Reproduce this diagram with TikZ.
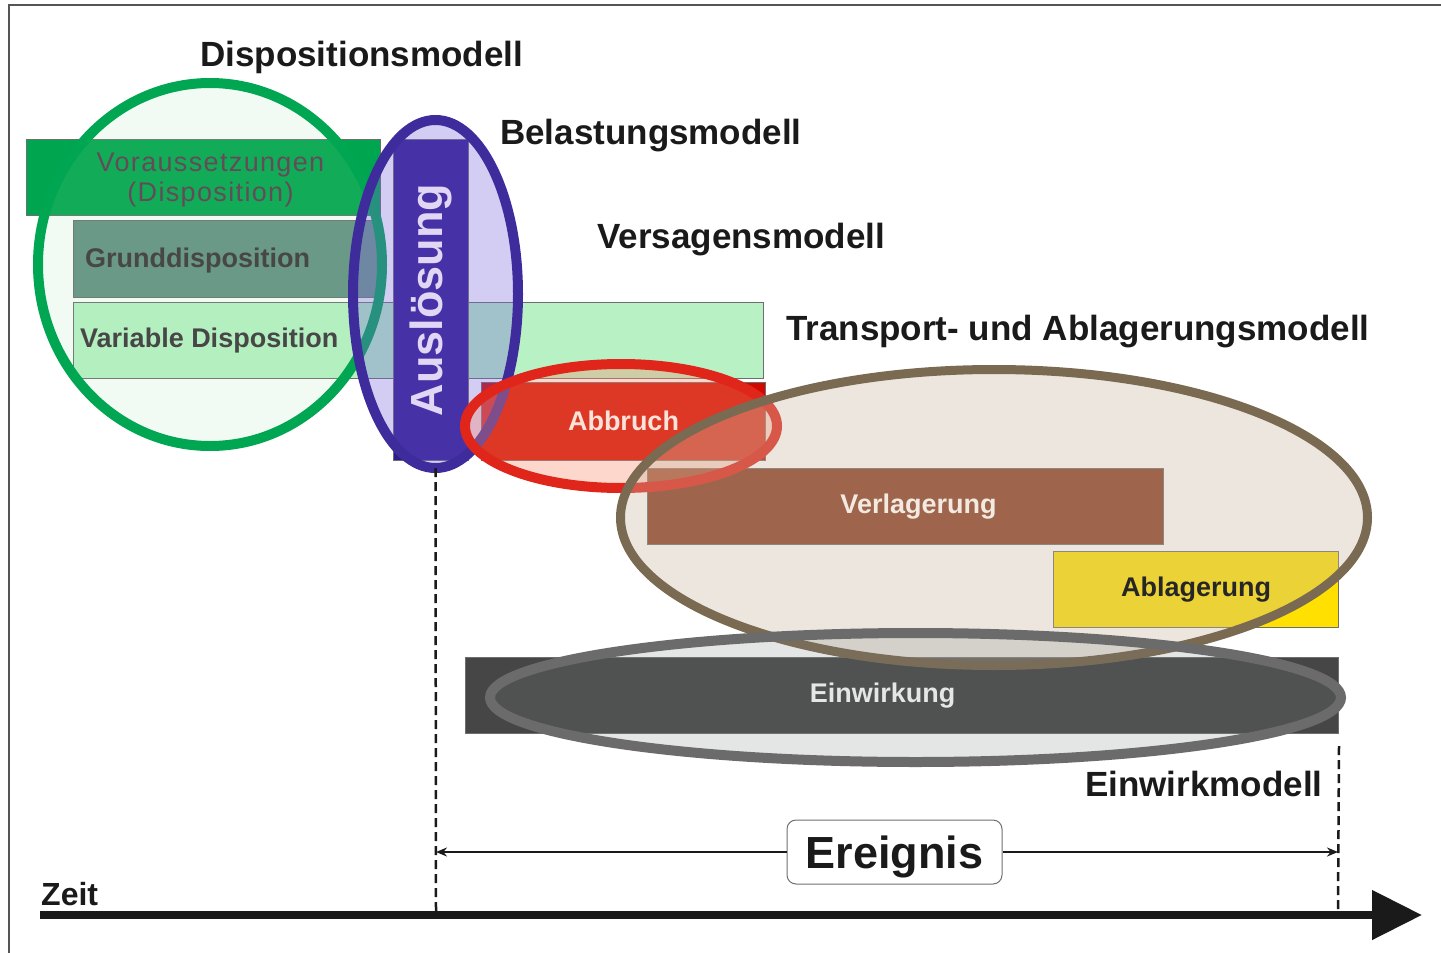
\documentclass[tikz,border=0pt]{standalone}
\usepackage{fontspec}
\setmainfont{Liberation Sans}
\newfontfamily\widefont{Liberation Sans}[LetterSpace=5]
\usepackage{tikz}
\usetikzlibrary{shapes.geometric, arrows.meta, positioning, calc}
\definecolor{ink}{HTML}{1A1A1A}
\definecolor{boxline}{HTML}{6E6E6E}
\definecolor{headgreen}{HTML}{00A550}
\definecolor{grundteal}{HTML}{649085}
\definecolor{varigreen}{HTML}{B8F1C4}
\definecolor{ausviolet}{HTML}{2E1A8C}
\definecolor{abbred}{HTML}{D00A00}
\definecolor{verbrown}{HTML}{8A3A1F}
\definecolor{ablyellow}{HTML}{FFE000}
\definecolor{einwgray}{HTML}{464646}
\definecolor{dispgreen}{HTML}{00A651}
\definecolor{dispfill}{HTML}{96E1A0}
\definecolor{ausline}{HTML}{3E2C9C}
\definecolor{ausfill}{HTML}{7864DC}
\definecolor{abbline}{HTML}{E0261A}
\definecolor{abbfill}{HTML}{F88C6E}
\definecolor{transline}{HTML}{7A6A52}
\definecolor{transfill}{HTML}{C8B8A0}
\definecolor{einwline}{HTML}{6B6B6B}
\definecolor{einwfill}{HTML}{787D7D}
\definecolor{vortext}{HTML}{644B58}
\definecolor{grundtext}{HTML}{474747}
\definecolor{austext}{HTML}{E1D7F5}
\definecolor{abbtext}{HTML}{FBE3DA}
\definecolor{vertext}{HTML}{F2EAE0}
\definecolor{abltext}{HTML}{262626}
\definecolor{einwtext}{HTML}{E6E6E6}
\definecolor{evline}{HTML}{707070}
\definecolor{frameline}{HTML}{555555}

\begin{document}
\begin{tikzpicture}[x=1pt, y=-1pt,
    box/.style={rectangle, draw=boxline, line width=1pt, inner sep=0pt, anchor=north west},
    ring/.style={ellipse, inner sep=0pt, outer sep=0pt, line width=10pt},
    heading/.style={anchor=base west, inner sep=0pt, text=ink,
                    font=\fontsize{35}{42}\selectfont\bfseries},
    boxlabel/.style={inner sep=0pt, font=\fontsize{27}{31}\selectfont\bfseries},
    dashline/.style={ink, line width=2.5pt, dash pattern=on 9pt off 5pt},
    evarrow/.style={-{Stealth[length=11pt, width=9pt]}, line width=2pt, ink},
    timeaxis/.style={-{Triangle[length=50pt, width=48pt]}, line width=8pt, ink}
]
\useasboundingbox (0,0) rectangle (1441,953);
\draw[frameline, line width=2pt] (9,953) -- (9,5) -- (1441,5);

\node[box, fill=headgreen, minimum width=354pt, minimum height=76pt] (voraus) at (26,139) {};
\node[box, fill=grundteal, minimum width=307pt, minimum height=77pt] (grund) at (73,220) {};
\node[box, fill=varigreen, minimum width=690pt, minimum height=76pt] (vardisp) at (73,302) {};
\node[box, fill=ausviolet, minimum width=75pt, minimum height=321pt] (ausbar) at (393,139) {};
\node[box, fill=abbred, minimum width=284pt, minimum height=78pt] (abbruch) at (481,382) {};
\node[box, fill=verbrown, minimum width=516pt, minimum height=76pt] (verlag) at (647,468) {};
\node[box, fill=ablyellow, minimum width=285pt, minimum height=76pt] (ablag) at (1053,551) {};
\node[box, fill=einwgray, minimum width=873pt, minimum height=76pt] (einw) at (465,657) {};

\node[ring, draw=dispgreen, fill=dispfill, fill opacity=0.12,
      minimum width=344pt, minimum height=363pt] (dispring) at (210,264.5) {};
\node[ring, draw=ausline, fill=ausfill, fill opacity=0.33,
      minimum width=165pt, minimum height=348pt] (ausring) at (435.5,294) {};
\node[ring, draw=abbline, fill=abbfill, fill opacity=0.35,
      minimum width=312pt, minimum height=124pt] (abbring) at (621,426) {};
\node[ring, line width=9pt, draw=transline, fill=transfill, fill opacity=0.35,
      minimum width=747pt, minimum height=296pt] (transring) at (994,517.5) {};
\node[ring, draw=einwline, fill=einwfill, fill opacity=0.2,
      minimum width=851pt, minimum height=129pt] (einwring) at (915.5,697.5) {};

\node[inner sep=0pt, align=center, text=vortext,
      font=\widefont\fontsize{27}{30}\selectfont] (vorText) at ([xshift=7pt, yshift=-3pt]voraus.center)
      {Voraussetzungen\\(Disposition)};
\node[boxlabel, anchor=west, text=grundtext] (grundText) at ([xshift=12pt, yshift=-2pt]grund.west) {Grunddisposition};
\node[boxlabel, anchor=west, text=grundtext] (variText) at ([xshift=7pt]vardisp.west) {Variable Disposition};
\node[inner sep=0pt, rotate=90, text=austext,
      font=\fontsize{45}{50}\selectfont\bfseries] (ausText) at (ausbar.center) {Auslösung};
\node[boxlabel, text=abbtext] (abbText) at ([yshift=1pt]abbruch.center) {Abbruch};
\node[boxlabel, text=vertext] (verText) at ([xshift=13pt]verlag.center) {Verlagerung};
\node[boxlabel, text=abltext] (ablText) at (ablag.center) {Ablagerung};
\node[boxlabel, text=einwtext] (einwText) at ([xshift=-19.5pt]einw.center) {Einwirkung};

\node[heading] (dispHead) at (200,66) {Dispositionsmodell};
\node[heading] (belHead) at (500,144) {Belastungsmodell};
\node[heading] (verHead) at (597,248) {Versagensmodell};
\node[heading] (transHead) at (786,340) {Transport- und Ablagerungsmodell};
\node[heading] (einwHead) at (1085,796) {Einwirkmodell};
\node[heading, font=\fontsize{32}{38}\selectfont\bfseries] (zeit) at (41,905) {Zeit};

\coordinate (tOnset) at (436,911);
\coordinate (tEnd) at (1338,911);
\coordinate (evstart) at (436,852);
\coordinate (evend) at (1338,852);
\coordinate (tstart) at (40,915);
\coordinate (tstop) at (1422,915);

\draw[dashline] (ausring.south) -- (tOnset);
\draw[dashline] ([yshift=-12pt]einw.south east) -- (tEnd);

\node[rounded corners=9pt, draw=evline, fill=white, line width=1pt,
      minimum width=215pt, minimum height=64pt, text depth=0pt, text=ink,
      font=\fontsize{45}{50}\selectfont\bfseries] (ereignis) at (894.5,852) {Ereignis};
\draw[evarrow] (ereignis) -- (evstart);
\draw[evarrow] (ereignis) -- (evend);

\draw[timeaxis] (tstart) -- (tstop);
\end{tikzpicture}
\end{document}
